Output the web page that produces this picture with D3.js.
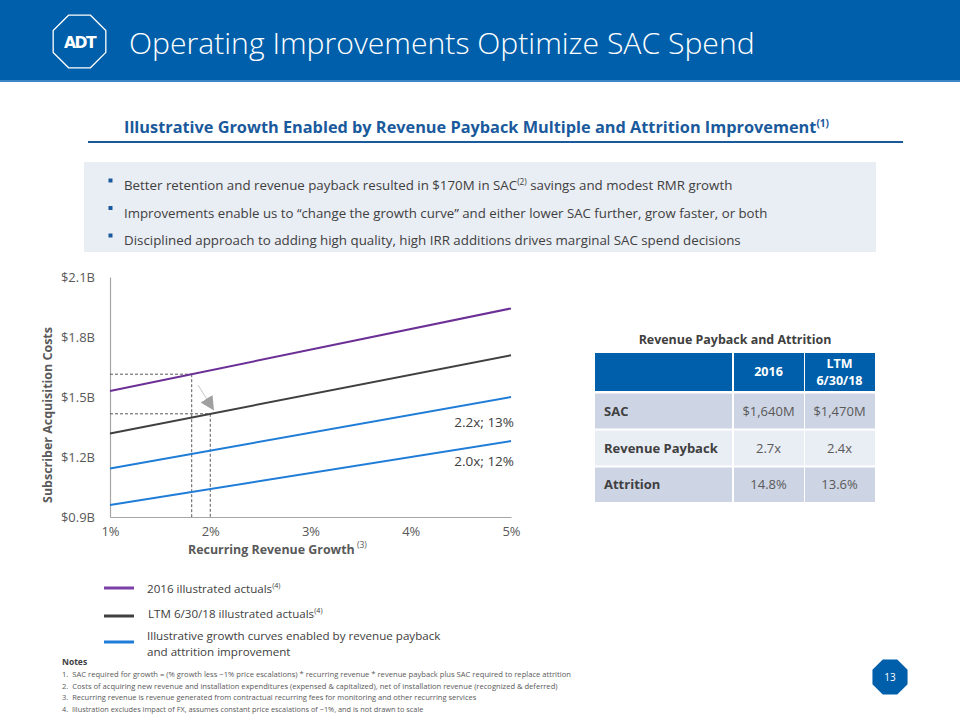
<!DOCTYPE html>
<html><head><meta charset="utf-8">
<script src="https://cdn.jsdelivr.net/npm/d3@7"></script>
<style>body{margin:0;background:#fff}svg{display:block}</style>
</head><body>
<svg id="c" width="960" height="720"></svg>
<script>
// ---------- data ----------
const growth = [1, 5];                 // recurring revenue growth (%) endpoints
const sac2016 = [1.53, 1.943];         // $B, 2016 illustrated actuals
const sacLTM = [1.318, 1.709];         // $B, LTM 6/30/18 illustrated actuals
const curveA = [1.143, 1.50];          // $B, 2.2x; 13%
const curveB = [0.96, 1.28];           // $B, 2.0x; 12%
const curveLabels = ["2.2x; 13%", "2.0x; 12%"];
const yTicks = [0.9, 1.2, 1.5, 1.8, 2.1];
const xTicks = [1, 2, 3, 4, 5];
const guide2016 = [1.815, 1.614];      // growth %, SAC $B
const guideLTM = [2.0, 1.416];
const arrowFrom = [1.878, 1.56], arrowTo = [2.03, 1.438];
const tableHead = ["", "2016", "LTM|6/30/18"];
const tableRows = ["SAC", "Revenue Payback", "Attrition"];
const col2016 = ["$1,640M", "2.7x", "14.8%"];
const colLTM = ["$1,470M", "2.4x", "13.6%"];
const bullets = [
  ["Better retention and revenue payback resulted in $170M in SAC", "(2)", " savings and modest RMR growth"],
  ["Improvements enable us to \u201cchange the growth curve\u201d and either lower SAC further, grow faster, or both"],
  ["Disciplined approach to adding high quality, high IRR additions drives marginal SAC spend decisions"]
];
const notes = [
  "1.  SAC required for growth = (% growth less ~1% price escalations) * recurring revenue * revenue payback plus SAC required to replace attrition",
  "2.  Costs of acquiring new revenue and installation expenditures (expensed & capitalized), net of installation revenue (recognized & deferred)",
  "3.  Recurring revenue is revenue generated from contractual recurring fees for monitoring and other recurring services",
  "4.  Illustration excludes impact of FX, assumes constant price escalations of ~1%, and is not drawn to scale"
];

// ---------- helpers ----------
const svg = d3.select("#c");
const FONT = "'Open Sans', 'Noto Sans', sans-serif";
function fit(sel, w) {
  const n = sel.node(); const cur = n.getComputedTextLength();
  const fs = parseFloat(sel.attr("font-size"));
  sel.attr("font-size", fs * w / cur);
  return sel;
}
function octagon(cx, cy, r) {
  return d3.range(8).map(k => {
    const a = (22.5 + 45 * k) * Math.PI / 180;
    return [cx + r * Math.cos(a), cy + r * Math.sin(a)];
  });
}

// ---------- header ----------
svg.append("rect").attr("x", 0).attr("y", 0).attr("width", 960).attr("height", 82).attr("fill", "#005FAA");
svg.append("rect").attr("x", 0).attr("y", 80).attr("width", 960).attr("height", 2).attr("fill", "#3C86C6");
svg.append("polygon").attr("points", octagon(79.5, 41.5, 28.5).join(" "))
  .attr("fill", "none").attr("stroke", "#fff").attr("stroke-width", 1.3);
fit(svg.append("text").attr("x", 64).attr("y", 47.5).attr("font-family", "'DejaVu Sans', sans-serif")
  .attr("font-weight", "bold").attr("font-size", 15).attr("fill", "#fff").attr("letter-spacing", -1.5).text("ADT"), 31);
fit(svg.append("text").attr("x", 129).attr("y", 54).attr("font-family", FONT).attr("font-weight", 300)
  .attr("font-size", 30).attr("fill", "#fff").text("Operating Improvements Optimize SAC Spend"), 626);

// ---------- subtitle ----------
const sub = svg.append("text").attr("x", 124).attr("y", 133).attr("font-family", FONT)
  .attr("font-weight", "bold").attr("font-size", 17).attr("fill", "#1A5A9C");
sub.append("tspan").text("Illustrative Growth Enabled by Revenue Payback Multiple and Attrition Improvement");
sub.append("tspan").attr("dy", -6).style("font-size", "0.62em").text("(1)");
fit(sub, 706);
svg.append("rect").attr("x", 88).attr("y", 141).attr("width", 815).attr("height", 2).attr("fill", "#1A5A9C");

// ---------- bullet box ----------
svg.append("rect").attr("x", 84).attr("y", 162).attr("width", 792).attr("height", 90).attr("fill", "#E9EDF4");
const bulletEnds = [733, 768, 741];
bullets.forEach((parts, i) => {
  const yy = 185 + i * 27.5;
  svg.append("rect").attr("x", 108.5).attr("y", yy - 6.5).attr("width", 4).attr("height", 4).attr("fill", "#1A5A9C");
  const t = svg.append("text").attr("x", 124).attr("y", yy).attr("font-family", FONT)
    .attr("font-size", 15).attr("fill", "#404040");
  parts.forEach(p => {
    if (/^\(\d\)$/.test(p)) t.append("tspan").attr("dy", -5).style("font-size", "0.62em").text(p);
    else t.append("tspan").attr("dy", t.selectAll("tspan").size() ? 5 : 0).text(p);
  });
  fit(t, bulletEnds[i] - 124);
});

// ---------- chart ----------
const x = d3.scaleLinear().domain([1, 5]).range([110, 511]);
const y = d3.scaleLinear().domain([0.9, 2.1]).range([517, 277]);
const AX = "#A6A6A6", TXT = "#595959";

const gy = svg.append("g").attr("transform", `translate(${x(1)},0)`)
  .call(d3.axisLeft(y).tickValues(yTicks).tickSize(0).tickPadding(15).tickFormat(d => "$" + d.toFixed(1) + "B"));
const gx = svg.append("g").attr("transform", `translate(0,${y(0.9)})`)
  .call(d3.axisBottom(x).tickValues(xTicks).tickSize(0).tickPadding(10).tickFormat(d => d + "%"));
[gy, gx].forEach(g => {
  g.select(".domain").attr("stroke", AX).attr("stroke-width", 1.2);
  g.selectAll("text").attr("font-family", FONT).attr("font-size", 13).attr("fill", TXT);
});

// guides (dashed)
const dash = "3,2";
[guide2016, guideLTM].forEach(([g, v]) => {
  svg.append("line").attr("x1", x(1)).attr("x2", x(g)).attr("y1", y(v)).attr("y2", y(v))
    .attr("stroke", "#595959").attr("stroke-width", 1).attr("stroke-dasharray", dash);
  svg.append("line").attr("x1", x(g)).attr("x2", x(g)).attr("y1", y(v)).attr("y2", y(0.9))
    .attr("stroke", "#595959").attr("stroke-width", 1).attr("stroke-dasharray", dash);
});

// lines
const line = d3.line().x((d, i) => x(growth[i])).y(d => y(d));
const series = [
  { v: sac2016, c: "#6B2F96" },
  { v: sacLTM, c: "#404040" },
  { v: curveA, c: "#1F7DD8" },
  { v: curveB, c: "#1F7DD8" }
];
series.forEach(s => svg.append("path").datum(s.v).attr("d", line)
  .attr("fill", "none").attr("stroke", s.c).attr("stroke-width", 2));

// arrow
svg.append("defs").append("marker").attr("id", "ah").attr("viewBox", "0 0 10 10")
  .attr("refX", 9).attr("refY", 5).attr("markerWidth", 14).attr("markerHeight", 14)
  .attr("markerUnits", "userSpaceOnUse").attr("orient", "auto")
  .append("path").attr("d", "M0,0L10,5L0,10Z").attr("fill", "#A0A0A0");
svg.append("line").attr("x1", x(arrowFrom[0])).attr("y1", y(arrowFrom[1]))
  .attr("x2", x(arrowTo[0])).attr("y2", y(arrowTo[1]))
  .attr("stroke", "#C8C8C8").attr("stroke-width", 1).attr("marker-end", "url(#ah)");

// curve labels
[[curveA, curveLabels[0], 422], [curveB, curveLabels[1], 461]].forEach(([s, l, yy]) => {
  svg.append("text").attr("x", 514).attr("y", yy).attr("dy", "0.35em").attr("text-anchor", "end")
    .attr("font-family", FONT).attr("font-size", 13.5).attr("fill", "#404040").text(l);
});

// axis titles
const xt = svg.append("text").attr("x", 188).attr("y", 554).attr("font-family", FONT)
  .attr("font-weight", "bold").attr("font-size", 13).attr("fill", TXT);
xt.append("tspan").text("Recurring Revenue Growth");
fit(xt, 167);
svg.append("text").attr("x", 357).attr("y", 548).attr("font-family", FONT).attr("font-size", 8.5)
  .attr("fill", TXT).text("(3)");
fit(svg.append("text").attr("transform", "translate(52,415) rotate(-90)").attr("text-anchor", "middle")
  .attr("font-family", FONT).attr("font-weight", "bold").attr("font-size", 13).attr("fill", TXT)
  .text("Subscriber Acquisition Costs"), 176);

// ---------- table ----------
fit(svg.append("text").attr("x", 735).attr("y", 344).attr("text-anchor", "middle").attr("font-family", FONT)
  .attr("font-weight", "bold").attr("font-size", 14).attr("fill", "#404040").text("Revenue Payback and Attrition"), 193);
const colX = [595, 733, 804, 875];
const rowY = [353, 392.5, 429.5, 466.5, 503];
const tg = svg.append("g");
for (let c = 0; c < 3; c++) {
  tg.append("rect").attr("x", colX[c] + (c ? 1 : 0)).attr("y", rowY[0]).attr("width", colX[c + 1] - colX[c] - 1)
    .attr("height", rowY[1] - rowY[0] - 1.5).attr("fill", "#005FAA");
  for (let r = 0; r < 3; r++) {
    tg.append("rect").attr("x", colX[c] + (c ? 1 : 0)).attr("y", rowY[r + 1] + 1)
      .attr("width", colX[c + 1] - colX[c] - 1).attr("height", rowY[r + 2] - rowY[r + 1] - 2)
      .attr("fill", r === 1 ? "#E9EDF4" : "#CDD4E4");
  }
}
tableHead.forEach((h, c) => {
  if (!h) return;
  const cx = (colX[c] + colX[c + 1]) / 2;
  const ls = h.split("|");
  ls.forEach((l, k) => tg.append("text").attr("x", cx).attr("y", 372 + (ls.length === 1 ? 0 : (k - 0.5) * 16.5))
    .attr("dy", "0.35em").attr("text-anchor", "middle").attr("font-family", FONT).attr("font-weight", "bold")
    .attr("font-size", 12.5).attr("fill", "#fff").text(l));
});
tableRows.forEach((r, i) => {
  const cy = (rowY[i + 1] + rowY[i + 2]) / 2;
  tg.append("text").attr("x", 604).attr("y", cy).attr("dy", "0.35em").attr("font-family", FONT)
    .attr("font-weight", "bold").attr("font-size", 13).attr("fill", "#404040").text(r);
  [col2016[i], colLTM[i]].forEach((v, k) => tg.append("text").attr("x", (colX[k + 1] + colX[k + 2]) / 2)
    .attr("y", cy).attr("dy", "0.35em").attr("text-anchor", "middle").attr("font-family", FONT)
    .attr("font-size", 13).attr("fill", TXT).text(v));
});

// ---------- legend ----------
const legend = [
  { c: "#7B3FA8", ly: 588, lines: [["2016 illustrated actuals", "(4)"]], tx: 147, ty: 589 },
  { c: "#404040", ly: 616, lines: [["LTM 6/30/18 illustrated actuals", "(4)"]], tx: 148, ty: 614 },
  { c: "#1F7DD8", ly: 642, lines: [["Illustrative growth curves enabled by revenue payback"], ["and attrition improvement"]], tx: 147, ty: 636 }
];
legend.forEach(L => {
  svg.append("line").attr("x1", 104).attr("x2", 134).attr("y1", L.ly).attr("y2", L.ly)
    .attr("stroke", L.c).attr("stroke-width", 3);
  L.lines.forEach((parts, k) => {
    const t = svg.append("text").attr("x", L.tx).attr("y", L.ty + k * 16).attr("dy", "0.35em")
      .attr("font-family", FONT).attr("font-size", 11.6).attr("fill", "#404040");
    t.append("tspan").text(parts[0]);
    if (parts[1]) t.append("tspan").attr("dy", -5).style("font-size", "0.62em").text(parts[1]);
  });
});

// ---------- notes ----------
svg.append("text").attr("x", 62).attr("y", 665).attr("font-family", FONT).attr("font-weight", "bold")
  .attr("font-size", 8.5).attr("fill", "#404040").text("Notes");
const noteEnds = [572, 558, 477, 424];
notes.forEach((n, i) => {
  fit(svg.append("text").attr("x", 62).attr("y", 677 + i * 11.7).attr("font-family", FONT)
    .attr("font-size", 8.5).attr("fill", TXT).attr("xml:space", "preserve").text(n), noteEnds[i] - 62);
});

// ---------- page number ----------
svg.append("polygon").attr("points", octagon(890, 677, 19).join(" ")).attr("fill", "#005FAA");
svg.append("text").attr("x", 890).attr("y", 677).attr("dy", "0.35em").attr("text-anchor", "middle")
  .attr("font-family", FONT).attr("font-size", 10).attr("fill", "#fff").text("13");
</script>
</body></html>
